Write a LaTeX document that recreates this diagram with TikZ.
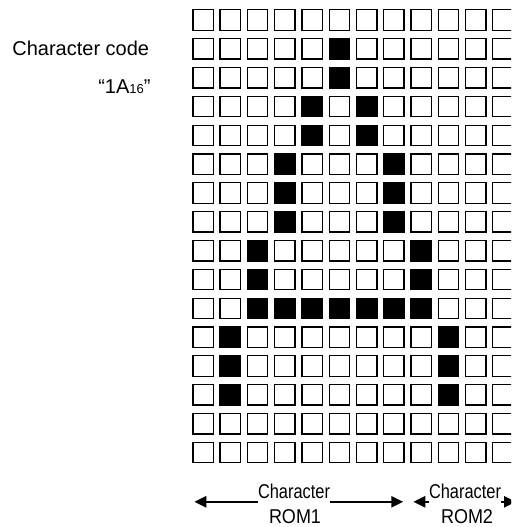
\documentclass[tikz,border=0pt]{standalone}
\usepackage{fontspec}
\setmainfont{Liberation Sans}
\usetikzlibrary{arrows.meta}
\tikzset{
  cell/.style={draw=black, line width=1.3pt, minimum width=20.4pt, minimum height=20.4pt, inner sep=0pt, fill=white},
  oncell/.style={cell, fill=black},
  lbl/.style={font=\fontsize{20}{24}\selectfont, inner sep=0pt, text=black},
  dimtxt/.style={lbl, xscale=0.82, fill=white, text depth=6pt},
  romtxt/.style={lbl, xscale=0.9},
  dimarrow/.style={line width=2.6pt, {Triangle[length=12pt,width=11pt]}-{Triangle[length=12pt,width=11pt]}}
}
\begin{document}
\begin{tikzpicture}[x=1pt, y=-1pt]
\useasboundingbox (0,0) rectangle (511,527);
\clip (0,0) rectangle (511,527);
% grid of cells
\foreach \r in {1,...,16}{
  \foreach \c in {1,...,12}{
    \node[cell] (c-\r-\c) at ({203.05+27.27*(\c-1)}, {20.05+28.83*(\r-1)}) {};
  }
}
% set dots
\foreach \r/\c in {2/6,3/6,4/5,4/7,5/5,5/7,6/4,6/8,7/4,7/8,8/4,8/8,9/3,9/9,10/3,10/9,
  11/3,11/4,11/5,11/6,11/7,11/8,11/9,12/2,12/10,13/2,13/10,14/2,14/10}{
  \node[oncell] (b-\r-\c) at (c-\r-\c) {};
}
% left labels
\node[lbl, anchor=base east] (code) at (149.3,56) {Character code};
\node[lbl, anchor=base east] (hex) at (150.7,93.5) {“1A{\fontsize{13}{15}\selectfont 16}”};
% dimension arrows
\coordinate (l1) at (194.3,501.8);
\coordinate (r1) at (403.3,501.8);
\coordinate (l2) at (413.3,501.8);
\coordinate (r2) at (516,501.8);
\draw[dimarrow] (l1) -- (r1);
\draw[dimarrow] (l2) -- (r2);
\node[dimtxt, anchor=base] (t1) at (294,498.5) {Character};
\node[romtxt, anchor=base] (rom1) at (295,523.7) {ROM1};
\node[dimtxt, anchor=base] (t2) at (465,498.5) {Character};
\node[romtxt, anchor=base] (rom2) at (467,523.7) {ROM2};
\end{tikzpicture}
\end{document}
